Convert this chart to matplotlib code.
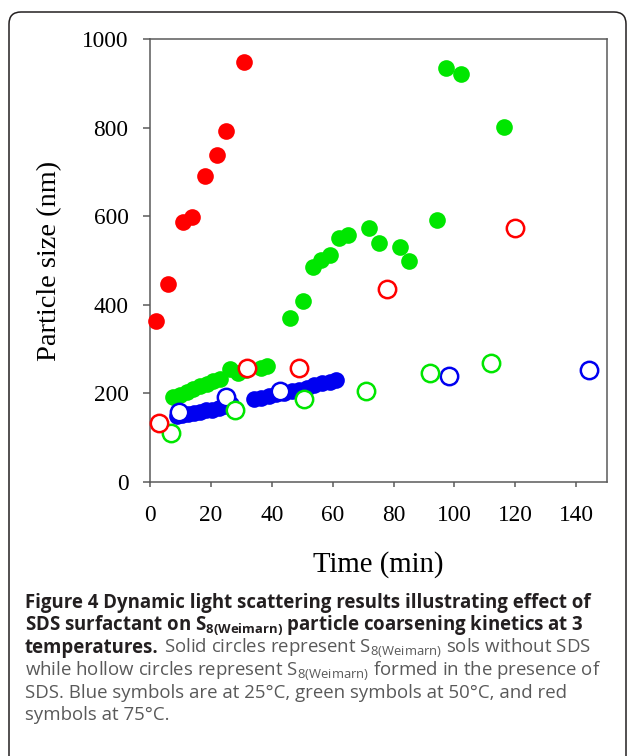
import matplotlib
matplotlib.use('Agg')
import matplotlib.pyplot as plt
from matplotlib.patches import FancyBboxPatch

plt.rcParams.update({'font.family': 'Liberation Serif',
                     'mathtext.fontset': 'custom',
                     'mathtext.rm': 'Open Sans',
                     'mathtext.bf': 'Open Sans:bold',
                     'axes.linewidth': 1.1,
                     'axes.edgecolor': '#5a5a5a'})

# 25 C (blue)
blue_solid_x = [8.8, 10.5, 12.5, 14.5, 16.5, 18.5, 20.5, 22.5, 24.5, 26.5,
                34, 36.5, 39, 41.5, 44, 46.5, 49, 51.5, 54, 56.5, 59, 61]
blue_solid_y = [148, 150, 153, 156, 158, 161, 163, 166, 170, 175,
                188, 190, 194, 198, 200, 204, 207, 212, 218, 222, 226, 230]
blue_hollow_x = [9.6, 24.9, 42.7, 98.2, 144.1]
blue_hollow_y = [158, 191, 205, 238, 252]

# 50 C (green)
green_solid_x = [7.5, 9.9, 12.1, 14.2, 16.4, 18.6, 20.8, 23.0, 26.3, 29.0, 31.5,
                 36.5, 38.4, 46, 50.1, 53.6, 56.2, 59, 62.1, 65.1, 72, 75.1,
                 82, 85, 94.1, 97.1, 102, 116.2]
green_solid_y = [191, 197, 203, 210, 216, 221, 227, 232, 254, 245, 252,
                 257, 262, 371, 408, 486, 501, 512, 550, 558, 573, 539,
                 530, 498, 591, 934, 921, 802]
green_hollow_x = [6.8, 27.8, 50.6, 71, 92, 112.1]
green_hollow_y = [111, 162, 187, 205, 246, 269]

# 75 C (red)
red_solid_x = [2, 6, 10.7, 13.8, 18, 22, 25, 31]
red_solid_y = [364, 446, 588, 599, 691, 738, 793, 948]
red_hollow_x = [3, 32, 49, 78, 120]
red_hollow_y = [133, 256, 256, 436, 573]

BLUE = '#0000f0'
GREEN = '#00e600'
RED = '#ff0000'

fig = plt.figure(figsize=(6.29, 7.56), dpi=100)
ax = fig.add_axes([150/629, 1-481.7/756, 456.7/629, 442.4/756])

for xs, ys, c in [(blue_solid_x, blue_solid_y, BLUE),
                  (green_solid_x, green_solid_y, GREEN),
                  (red_solid_x, red_solid_y, RED)]:
    ax.plot(xs, ys, 'o', color=c, ms=12, mew=0, clip_on=False, zorder=3)
for xs, ys, c in [(blue_hollow_x, blue_hollow_y, BLUE),
                  (green_hollow_x, green_hollow_y, GREEN),
                  (red_hollow_x, red_hollow_y, RED)]:
    ax.plot(xs, ys, 'o', mfc='white', mec=c, ms=12.5, mew=1.8, clip_on=False, zorder=4)

ax.set_xlim(0, 150)
ax.set_ylim(0, 1000)
ax.set_xticks(range(0, 141, 20))
ax.set_yticks(range(0, 1001, 200))
ax.tick_params(axis='x', length=3.6, width=1.1, color='#5a5a5a', pad=13.5, labelsize=16.8)
ax.tick_params(axis='y', length=5, width=1.1, color='#5a5a5a', pad=10.5, labelsize=16.8)

ax.set_xlabel('Time (min)', fontsize=20.7)
ax.xaxis.set_label_coords(0.5, (481.7-565)/442.4)
ax.xaxis.label.set_va('center')
ax.set_ylabel('Particle size (nm)', fontsize=20.4)
ax.yaxis.set_label_coords((50-150)/456.7, 0.5)
ax.yaxis.label.set_va('center')

# frame around figure + caption
box = FancyBboxPatch((0.09, -0.3), 6.17, 7.44+0.3,
                     boxstyle='round,pad=0,rounding_size=0.12',
                     transform=fig.dpi_scale_trans, fc='none', ec='#231f20', lw=1.1)
fig.add_artist(box)

# caption
DARK = '#231f20'
GREY = '#595959'
fs = 13.4
sub = r'S$_{\mathrm{8(Weimarn)}}$'
subb = r'S$_{\mathbf{8(Weimarn)}}$'
x0 = 25/629
base = [608, 630.5, 653, 675.5, 698, 720.5]

def fy(py):
    return 1 - py/756

fig.text(x0, fy(base[0]), 'Figure 4 Dynamic light scattering results illustrating effect of',
         family='Open Sans', weight='bold', fontsize=fs, color=DARK, va='baseline')
fig.text(x0, fy(base[1]), 'SDS surfactant on ' + subb + ' particle coarsening kinetics at 3',
         family='Open Sans', weight='bold', fontsize=fs, color=DARK, va='baseline')
t = fig.text(x0, fy(base[2]), 'temperatures.', family='Open Sans', weight='bold',
             fontsize=fs, color=DARK, va='baseline')
r = fig.canvas.get_renderer()
bb = t.get_window_extent(r)
fig.text(bb.x1/629 + 5/629, fy(base[2]), 'Solid circles represent ' + sub + ' sols without SDS',
         family='Open Sans', fontsize=fs, color=GREY, va='baseline')
fig.text(x0, fy(base[3]), 'while hollow circles represent ' + sub + ' formed in the presence of',
         family='Open Sans', fontsize=fs, color=GREY, va='baseline')
fig.text(x0, fy(base[4]), 'SDS. Blue symbols are at 25°C, green symbols at 50°C, and red',
         family='Open Sans', fontsize=fs, color=GREY, va='baseline')
fig.text(x0, fy(base[5]), 'symbols at 75°C.',
         family='Open Sans', fontsize=fs, color=GREY, va='baseline')

fig.savefig('out.png', dpi=100)
